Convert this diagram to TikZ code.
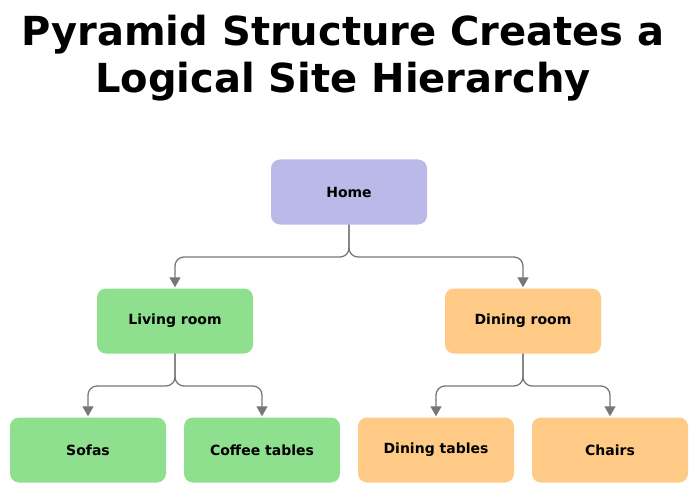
\documentclass[tikz,border=0pt]{standalone}
\usepackage{fontspec}
\setmainfont{DejaVu Sans}
\usetikzlibrary{positioning,arrows.meta}
\definecolor{homefill}{HTML}{BBB9E9}
\definecolor{livingfill}{HTML}{8EDF8E}
\definecolor{diningfill}{HTML}{FFCA85}
\definecolor{linkgray}{HTML}{777777}
\begin{document}
\begin{tikzpicture}[x=1pt,y=1pt,
            page/.style={rectangle, rounded corners=9pt, minimum width=156pt, minimum height=65pt, text centered, font=\bfseries\fontsize{14}{16}\selectfont},
            link/.style={-{Triangle[length=10pt,width=11pt]}, linkgray, line width=1.3pt, rounded corners=9pt, shorten >=1pt}
        ]
        \useasboundingbox (0,0) rectangle (700,-494);
        % Title
        \node[font=\bfseries\fontsize{40}{47}\selectfont, align=center] (title) at (343,-58) {Pyramid Structure Creates a\\Logical Site Hierarchy};
        % Top level
        \node[page, fill=homefill] (home) at (349,-192) {Home};
        % Rooms
        \node[page, fill=livingfill] (living) at (175,-321) {Living room};
        \node[page, fill=diningfill] (dining) at (523,-321) {Dining room};
        % Products
        \node[page, fill=livingfill] (sofas) at (88,-450) {Sofas};
        \node[page, fill=livingfill] (coffee) at (262,-450) {Coffee tables};
        \node[page, fill=diningfill] (dtables) at (436,-450) {Dining tables};
        \node[page, fill=diningfill] (chairs) at (610,-450) {Chairs};
        % Split points
        \coordinate (homesplit) at (349,-257);
        \coordinate (livingsplit) at (175,-386);
        \coordinate (diningsplit) at (523,-386);
        % Arrows
        \draw[link] (home.south) -- (homesplit) -| (living.north);
        \draw[link] (home.south) -- (homesplit) -| (dining.north);
        \draw[link] (living.south) -- (livingsplit) -| (sofas.north);
        \draw[link] (living.south) -- (livingsplit) -| (coffee.north);
        \draw[link] (dining.south) -- (diningsplit) -| (dtables.north);
        \draw[link] (dining.south) -- (diningsplit) -| (chairs.north);
\end{tikzpicture}
\end{document}
